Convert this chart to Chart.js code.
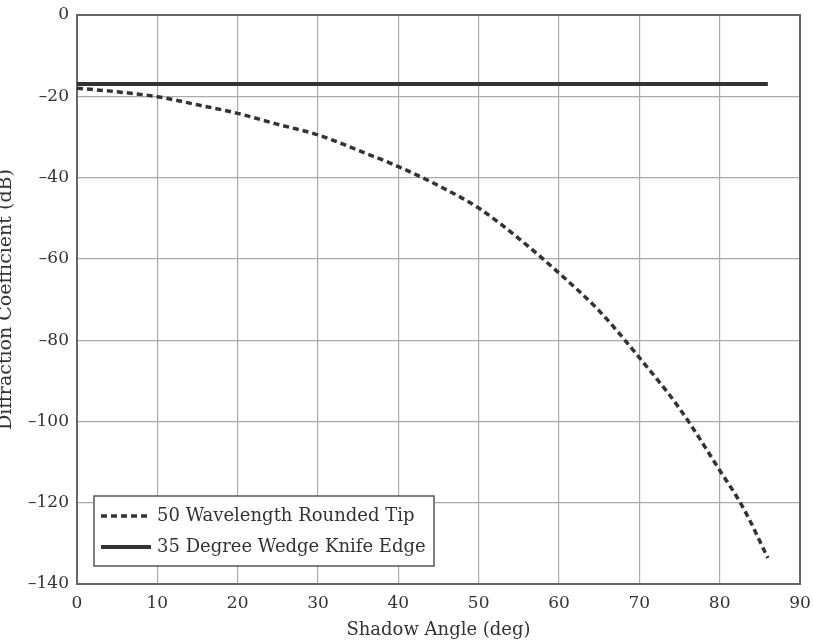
<!DOCTYPE html>
<html>
<head>
<meta charset="utf-8">
<script src="https://cdn.jsdelivr.net/npm/chart.js@4.4.1/dist/chart.umd.min.js"></script>
<style>
  html, body { margin: 0; padding: 0; background: #fff; }
  #wrap { width: 813px; height: 644px; }
</style>
</head>
<body>
<div id="wrap"><canvas id="diffChart" width="813" height="644"></canvas></div>
<script>
// shadow angle (deg) and diffraction coefficient (dB)
const angles = [0, 5, 10, 15, 20, 25, 30, 35, 40, 45, 50, 55, 60, 65, 70, 75, 80, 83, 86];
const roundedTip = [-18, -18.9, -20.1, -22.1, -24.2, -26.9, -29.5, -33.3, -37.3, -42.0, -47.5, -55.0, -63.5, -72.8, -84.3, -96.8, -112, -121.5, -133.6];
const knifeAngles = [0, 86];
const knifeEdge = [-17, -17];
const xTicks = [0, 10, 20, 30, 40, 50, 60, 70, 80, 90];
const yTicks = [0, -20, -40, -60, -80, -100, -120, -140];

const ink = '#333';
const serif = "'DejaVu Serif', 'Liberation Serif', serif";

const toPoints = (xs, ys) => xs.map((x, i) => ({ x: x, y: ys[i] }));

// dark frame round the whole plot area
const plotFrame = {
  id: 'plotFrame',
  beforeDatasetsDraw(chart) {
    const { ctx, chartArea: a } = chart;
    ctx.save();
    ctx.strokeStyle = '#666';
    ctx.lineWidth = 2;
    ctx.strokeRect(a.left, a.top, a.right - a.left, a.bottom - a.top);
    ctx.restore();
  }
};

// boxed legend drawn in the lower left corner of the plot
const boxLegend = {
  id: 'boxLegend',
  afterDraw(chart) {
    const ctx = chart.ctx;
    const area = chart.chartArea;
    const x0 = area.left + 17, y0 = area.bottom - 88, w = 340, h = 70;
    ctx.save();
    ctx.fillStyle = '#fff';
    ctx.fillRect(x0, y0, w, h);
    ctx.strokeStyle = '#555';
    ctx.lineWidth = 1.5;
    ctx.strokeRect(x0, y0, w, h);
    ctx.font = '18px ' + serif;
    ctx.textBaseline = 'middle';
    chart.data.datasets.forEach((ds, i) => {
      const y = y0 + 20 + i * 31;
      ctx.beginPath();
      ctx.setLineDash(ds.borderDash || []);
      ctx.lineWidth = ds.borderWidth;
      ctx.strokeStyle = ds.borderColor;
      ctx.moveTo(x0 + 7, y);
      ctx.lineTo(x0 + 57, y);
      ctx.stroke();
      ctx.setLineDash([]);
      ctx.fillStyle = ink;
      ctx.fillText(ds.label, x0 + 63, y);
    });
    ctx.restore();
  }
};

new Chart(document.getElementById('diffChart'), {
  type: 'scatter',
  data: {
    datasets: [{
      label: '50 Wavelength Rounded Tip',
      data: toPoints(angles, roundedTip),
      showLine: true,
      borderColor: ink,
      borderWidth: 3.5,
      borderDash: [6, 4],
      pointRadius: 0,
      cubicInterpolationMode: 'monotone'
    }, {
      label: '35 Degree Wedge Knife Edge',
      data: toPoints(knifeAngles, knifeEdge),
      showLine: true,
      borderColor: ink,
      borderWidth: 4,
      pointRadius: 0
    }]
  },
  options: {
    responsive: false,
    animation: false,
    layout: { padding: { left: -5, right: 13, top: 15, bottom: 0 } },
    plugins: {
      legend: { display: false },
      tooltip: { enabled: false }
    },
    scales: {
      x: {
        type: 'linear',
        min: 0,
        max: 90,
        afterBuildTicks: (scale) => { scale.ticks = xTicks.map(v => ({ value: v })); },
        afterFit: (scale) => {
          scale.height = 60;
          scale.paddingLeft = 0;
          scale.paddingRight = 0;
        },
        ticks: { color: ink, padding: 9, font: { family: serif, size: 17 } },
        grid: { color: '#aaa', lineWidth: 1.2, drawTicks: false },
        border: { color: '#666', width: 2 },
        title: {
          display: true,
          text: 'Shadow Angle (deg)',
          color: ink,
          padding: { top: 0, bottom: 3 },
          font: { family: serif, size: 18 }
        }
      },
      y: {
        min: -140,
        max: 0,
        afterBuildTicks: (scale) => { scale.ticks = yTicks.map(v => ({ value: v })); },
        afterFit: (scale) => {
          scale.width = 82;
          scale.paddingTop = 0;
          scale.paddingBottom = 0;
        },
        ticks: {
          color: ink,
          padding: 8,
          font: { family: serif, size: 17 },
          callback: (v) => v < 0 ? '\u2013' + Math.abs(v) : String(v)
        },
        grid: { color: '#aaa', lineWidth: 1.2, drawTicks: false },
        border: { color: '#666', width: 2 },
        title: {
          display: true,
          text: 'Diffraction Coefficient (dB)',
          color: ink,
          padding: 0,
          font: { family: serif, size: 19 }
        }
      }
    }
  },
  plugins: [plotFrame, boxLegend]
});
</script>
</body>
</html>
